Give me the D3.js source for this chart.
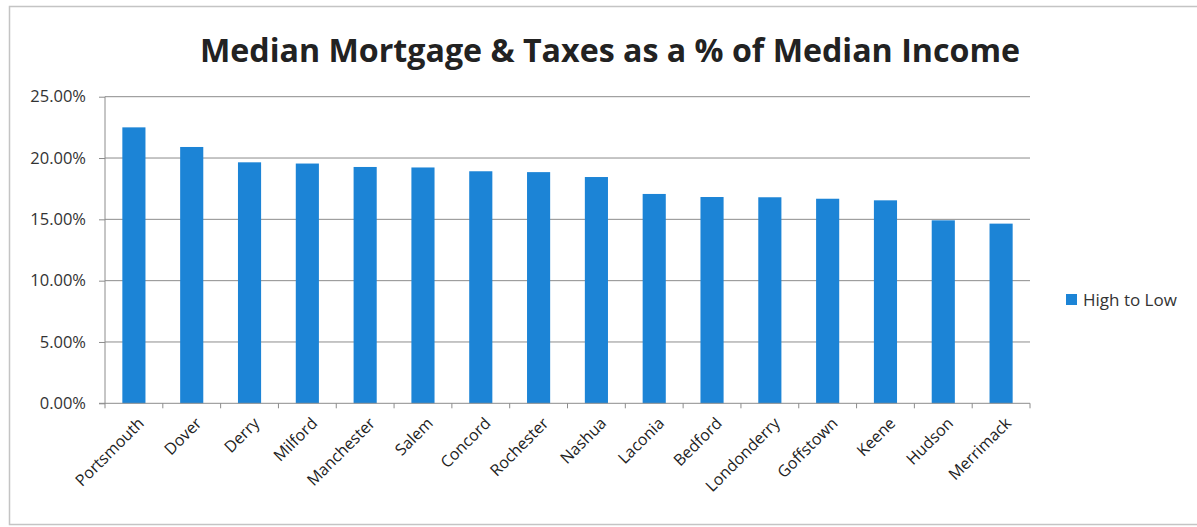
<!DOCTYPE html>
<html>
<head>
<meta charset="utf-8">
<script src="https://cdn.jsdelivr.net/npm/d3@7"></script>
<style>
  html, body { margin: 0; padding: 0; background: #fff; }
  svg { display: block; font-family: "Open Sans", "Noto Sans", sans-serif; }
</style>
</head>
<body>
<svg id="chart" width="1197" height="527"></svg>
<script>
// Towns, ordered from highest to lowest share
const towns = ["Portsmouth", "Dover", "Derry", "Milford", "Manchester", "Salem", "Concord",
  "Rochester", "Nashua", "Laconia", "Bedford", "Londonderry", "Goffstown", "Keene", "Hudson", "Merrimack"];
// Median mortgage & taxes as a share of median income (%)
const shares = [22.5, 20.9, 19.65, 19.55, 19.27, 19.23, 18.92, 18.85, 18.45, 17.07, 16.82, 16.8, 16.68, 16.55, 14.92, 14.65];
const yTicks = [0, 5, 10, 15, 20, 25];
const seriesName = "High to Low";
const title = "Median Mortgage & Taxes as a % of Median Income";

const svg = d3.select("#chart");
const W = 1197, H = 527;
const plot = { left: 105, right: 1030, top: 96.7, bottom: 403.3 };
const barColor = "#1c84d6";

// outer frame
svg.append("rect")
  .attr("x", 9.5).attr("y", 6.5)
  .attr("width", W + 10).attr("height", 518)
  .attr("fill", "#fff").attr("stroke", "#c4c4c4").attr("stroke-width", 1.5);

// title
svg.append("text")
  .attr("x", 610).attr("y", 62)
  .attr("text-anchor", "middle")
  .attr("font-size", 32).attr("font-weight", 700)
  .attr("fill", "#222")
  .attr("textLength", 820).attr("lengthAdjust", "spacingAndGlyphs")
  .text(title);

const x = d3.scaleBand().domain(towns).range([plot.left, plot.right]).paddingInner(0.6).paddingOuter(0.3);
const y = d3.scaleLinear().domain([0, 25]).range([plot.bottom, plot.top]);

// horizontal gridlines
svg.append("g")
  .selectAll("line").data(yTicks.filter(d => d > 0)).join("line")
  .attr("x1", plot.left).attr("x2", plot.right)
  .attr("y1", d => y(d)).attr("y2", d => y(d))
  .attr("stroke", "#8c8c8c").attr("stroke-width", 1);

// y axis
const yAxis = svg.append("g")
  .attr("transform", `translate(${plot.left},0)`)
  .call(d3.axisLeft(y).tickValues(yTicks).tickSize(6).tickPadding(8).tickFormat(d => d.toFixed(2) + "%"));
yAxis.select(".domain").attr("stroke", "#8c8c8c").attr("d", `M0,${plot.top}V${plot.bottom}`);
yAxis.selectAll(".tick line").attr("stroke", "#8c8c8c");
yAxis.selectAll(".tick text")
  .attr("font-size", 16.5).attr("fill", "#333")
  .attr("font-family", "Open Sans, sans-serif")
  .attr("x", -19);

// bars
svg.append("g")
  .selectAll("rect").data(towns).join("rect")
  .attr("x", d => x(d))
  .attr("width", x.bandwidth())
  .attr("y", (d, i) => y(shares[i]))
  .attr("height", (d, i) => y(0) - y(shares[i]))
  .attr("fill", barColor);

// x axis with category ticks at band boundaries
const step = (plot.right - plot.left) / towns.length;
const xAxisG = svg.append("g").attr("transform", `translate(0,${plot.bottom})`);
xAxisG.append("line")
  .attr("x1", plot.left - 6).attr("x2", plot.right)
  .attr("stroke", "#8c8c8c");
xAxisG.selectAll("line.tk").data(d3.range(towns.length + 1)).join("line")
  .attr("class", "tk")
  .attr("x1", i => plot.left + i * step).attr("x2", i => plot.left + i * step)
  .attr("y1", 0).attr("y2", 5)
  .attr("stroke", "#8c8c8c");
xAxisG.selectAll("text").data(towns).join("text")
  .attr("transform", d => `translate(${x(d) + x.bandwidth() / 2 + 11},21) rotate(-45)`)
  .attr("text-anchor", "end")
  .attr("font-size", 16)
  .attr("fill", "#222")
  .text(d => d);

// legend
const lg = svg.append("g").attr("transform", "translate(1066,294)");
lg.append("rect").attr("width", 11).attr("height", 11).attr("fill", barColor);
lg.append("text").attr("x", 17).attr("y", 11.5)
  .attr("font-size", 17).attr("fill", "#333").text(seriesName);
</script>
</body>
</html>
